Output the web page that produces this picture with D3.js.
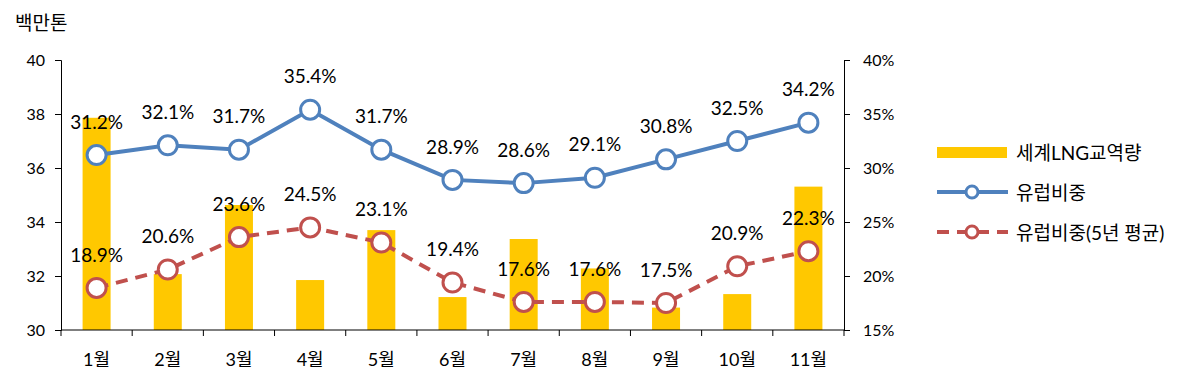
<!DOCTYPE html>
<html>
<head>
<meta charset="utf-8">
<script src="https://cdn.jsdelivr.net/npm/d3@7"></script>
<style>
  body { margin: 0; background: #fff; }
  svg text { font-family: Lato, "Noto Sans CJK KR", sans-serif; fill: #000; }
</style>
</head>
<body>
<div id="chart-container"></div>
<script>
// Data
const months = ["1월", "2월", "3월", "4월", "5월", "6월", "7월", "8월", "9월", "10월", "11월"];
const lngTrade = [37.86, 32.07, 34.63, 31.85, 33.70, 31.22, 33.37, 32.28, 30.83, 31.33, 35.31];
const euShare = [31.2, 32.1, 31.7, 35.4, 31.7, 28.9, 28.6, 29.1, 30.8, 32.5, 34.2];
const euShare5y = [18.9, 20.6, 23.6, 24.5, 23.1, 19.4, 17.6, 17.6, 17.5, 20.9, 22.3];
const leftTicks = [30, 32, 34, 36, 38, 40];
const rightTicks = [15, 20, 25, 30, 35, 40];
const legendLabels = ["세계LNG교역량", "유럽비중", "유럽비중(5년 평균)"];

const W = 1200, H = 385;
const plot = { left: 61, right: 844, top: 60, bottom: 330 };

const svg = d3.select("#chart-container")
  .append("svg")
  .attr("width", W)
  .attr("height", H);

// Scales
const x = d3.scaleBand().domain(months).range([plot.left, plot.right]).paddingInner(0).paddingOuter(0);
const y = d3.scaleLinear().domain([30, 40]).range([plot.bottom, plot.top]);
const y2 = d3.scaleLinear().domain([15, 40]).range([plot.bottom, plot.top]);
const barW = 28;
const cx = d => x(d) + x.bandwidth() / 2;

// Bars
svg.append("g").selectAll("rect")
  .data(lngTrade)
  .enter().append("rect")
  .attr("x", (d, i) => cx(months[i]) - barW / 2)
  .attr("y", d => y(d))
  .attr("width", barW)
  .attr("height", d => y(30) - y(d))
  .attr("fill", "#FFC800");

// Left axis
const leftAxis = svg.append("g")
  .attr("transform", `translate(${plot.left},0)`)
  .call(d3.axisLeft(y).tickValues(leftTicks).tickSize(6).tickPadding(10));
leftAxis.selectAll("text").style("font-size", "16px");

// Right axis
const rightAxis = svg.append("g")
  .attr("transform", `translate(${plot.right},0)`)
  .call(d3.axisRight(y2).tickValues(rightTicks).tickSize(6).tickPadding(13).tickFormat(d => d + "%"));
rightAxis.selectAll("text").style("font-size", "16px");

// Bottom axis with ticks between categories
const bottom = svg.append("g");
bottom.append("line")
  .attr("x1", plot.left).attr("x2", plot.right)
  .attr("y1", plot.bottom).attr("y2", plot.bottom)
  .attr("stroke", "#000");
bottom.selectAll(".tk")
  .data(months.concat(["end"]))
  .enter().append("line")
  .attr("x1", (d, i) => plot.left + i * x.bandwidth())
  .attr("x2", (d, i) => plot.left + i * x.bandwidth())
  .attr("y1", plot.bottom).attr("y2", plot.bottom + 6)
  .attr("stroke", "#000");
bottom.selectAll("text")
  .data(months)
  .enter().append("text")
  .attr("x", d => cx(d))
  .attr("y", 360)
  .attr("dy", "0.35em")
  .attr("text-anchor", "middle")
  .style("font-size", "18px")
  .text(d => d);

[leftAxis, rightAxis].forEach(a => {
  a.select(".domain").attr("stroke", "#000");
  a.selectAll(".tick line").attr("stroke", "#000");
});

// Unit label
svg.append("text")
  .attr("x", 15).attr("y", 23)
  .attr("dy", "0.35em")
  .style("font-size", "19px")
  .text("백만톤");

// Lines
const line = d3.line()
  .x((d, i) => cx(months[i]))
  .y(d => y2(d));

function drawSeries(values, color, dash) {
  svg.append("path")
    .datum(values)
    .attr("fill", "none")
    .attr("stroke", color)
    .attr("stroke-width", 4)
    .attr("stroke-dasharray", dash)
    .attr("d", line);

  svg.append("g").selectAll("circle")
    .data(values)
    .enter().append("circle")
    .attr("cx", (d, i) => cx(months[i]))
    .attr("cy", d => y2(d))
    .attr("r", 9.5)
    .attr("fill", "#fff")
    .attr("stroke", color)
    .attr("stroke-width", 3);

  svg.append("g").selectAll("text")
    .data(values)
    .enter().append("text")
    .attr("x", (d, i) => cx(months[i]))
    .attr("y", d => y2(d) - 33)
    .attr("dy", "0.35em")
    .attr("text-anchor", "middle")
    .style("font-size", "19px")
    .text(d => d.toFixed(1) + "%");
}

drawSeries(euShare, "#4F81BD", null);
drawSeries(euShare5y, "#C0504D", "12,8");

// Legend
const lg = svg.append("g");
lg.append("rect")
  .attr("x", 937).attr("y", 147)
  .attr("width", 70).attr("height", 11)
  .attr("fill", "#FFC800");
lg.append("line")
  .attr("x1", 937).attr("x2", 1008)
  .attr("y1", 192).attr("y2", 192)
  .attr("stroke", "#4F81BD").attr("stroke-width", 4);
lg.append("circle")
  .attr("cx", 972).attr("cy", 192).attr("r", 6)
  .attr("fill", "#fff").attr("stroke", "#4F81BD").attr("stroke-width", 3);
lg.append("line")
  .attr("x1", 937).attr("x2", 1008)
  .attr("y1", 232).attr("y2", 232)
  .attr("stroke", "#C0504D").attr("stroke-width", 4)
  .attr("stroke-dasharray", "12,8");
lg.append("circle")
  .attr("cx", 972).attr("cy", 232).attr("r", 6)
  .attr("fill", "#fff").attr("stroke", "#C0504D").attr("stroke-width", 3);
lg.selectAll("text")
  .data(legendLabels)
  .enter().append("text")
  .attr("x", 1016)
  .attr("y", (d, i) => 153 + i * 40)
  .attr("dy", "0.35em")
  .style("font-size", "19px")
  .text(d => d);
</script>
</body>
</html>
